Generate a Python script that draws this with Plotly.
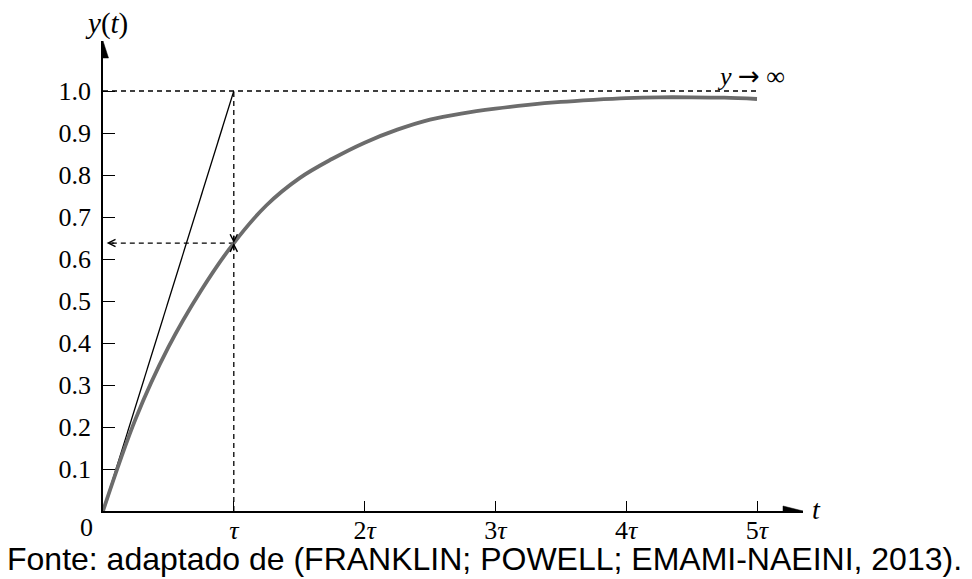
import plotly.graph_objects as go

# First-order step response y(t), time in units of the time constant tau
T_VALUES = [0, 0.25, 0.5, 0.75, 1.0, 1.25, 1.5, 1.75, 2.0, 2.25, 2.5, 2.75,
            3.0, 3.25, 3.5, 3.75, 4.0, 4.25, 4.5, 4.75, 5.0]
Y_VALUES = [0, 0.22, 0.39, 0.525, 0.638, 0.728, 0.792, 0.838, 0.877, 0.908, 0.932, 0.947,
            0.958, 0.967, 0.974, 0.979, 0.983, 0.985, 0.985, 0.984, 0.981]

TAU = 1.0
FINAL_VALUE = 1.0
Y_AT_TAU = 0.638
REF_LINE_END = 5.02
ARROW_TIP_X = 0.028

Y_TICKS = [0.1, 0.2, 0.3, 0.4, 0.5, 0.6, 0.7, 0.8, 0.9, 1.0]
Y_TICK_TEXT = ["0.1", "0.2", "0.3", "0.4", "0.5", "0.6", "0.7", "0.8", "0.9", "1.0"]
X_TICKS = [1, 2, 3, 4, 5]
X_TICK_TEXT = ["<i>τ</i>", "2<i>τ</i>", "3<i>τ</i>", "4<i>τ</i>", "5<i>τ</i>"]

W, H = 972, 579
PX_L, PX_R, PX_T, PX_B = 103, 803, 41, 511
PX_PER_TAU = 130.8
PX_PER_UNIT = 420.0
XMAX = (PX_R - PX_L) / PX_PER_TAU
YMAX = (PX_B - PX_T) / PX_PER_UNIT

SERIF = "Liberation Serif"
DASH = "5px,4px"

fig = go.Figure()

# Reference lines: final value and t = tau
fig.add_trace(go.Scatter(x=[0, REF_LINE_END], y=[FINAL_VALUE, FINAL_VALUE], mode="lines",
                         line=dict(color="black", width=1.3, dash=DASH), hoverinfo="skip"))
fig.add_trace(go.Scatter(x=[TAU, TAU], y=[0, FINAL_VALUE], mode="lines",
                         line=dict(color="black", width=1.3, dash=DASH), hoverinfo="skip"))
fig.add_trace(go.Scatter(x=[TAU, ARROW_TIP_X + 0.03], y=[Y_AT_TAU, Y_AT_TAU], mode="lines",
                         line=dict(color="black", width=1.3, dash=DASH), hoverinfo="skip"))

# Initial-slope tangent
fig.add_trace(go.Scatter(x=[0, TAU], y=[0, FINAL_VALUE], mode="lines",
                         line=dict(color="black", width=1.3), hoverinfo="skip"))

# Step response
fig.add_trace(go.Scatter(x=T_VALUES, y=Y_VALUES, mode="lines",
                         line=dict(color="#6c6c6c", width=3.8, shape="spline", smoothing=1.0),
                         hoverinfo="skip"))

annotations = []
arrow_style = dict(showarrow=True, arrowhead=5, arrowsize=1.1, arrowwidth=1.3,
                   arrowcolor="black", text="", xref="x", yref="y", axref="pixel", ayref="pixel")
# Double arrow on the tau line at y(tau)
annotations.append(dict(x=TAU, y=Y_AT_TAU, ax=0, ay=-9, **arrow_style))
annotations.append(dict(x=TAU, y=Y_AT_TAU, ax=0, ay=9, **arrow_style))
# Arrow towards the y axis
annotations.append(dict(x=ARROW_TIP_X, y=Y_AT_TAU, ax=9, ay=0, **arrow_style))

annotations += [
    dict(x=0, y=YMAX, xref="x", yref="y", text="<i>y</i>(<i>t</i>)", showarrow=False,
         xanchor="center", yanchor="middle", xshift=3, yshift=18,
         font=dict(family=SERIF, size=29, color="black")),
    dict(x=XMAX, y=0, xref="x", yref="y", text="<i>t</i>", showarrow=False,
         xanchor="center", yanchor="middle", xshift=13, yshift=2,
         font=dict(family=SERIF, size=28, color="black")),
    dict(x=REF_LINE_END, y=FINAL_VALUE, xref="x", yref="y",
         text="<i>y</i> <span style='font-family:DejaVu Sans'>→</span> ∞",
         showarrow=False, xanchor="center", yanchor="middle", xshift=-9, yshift=15,
         font=dict(family=SERIF, size=26, color="black")),
    dict(x=0, y=0, xref="x", yref="y", text="0", showarrow=False,
         xanchor="center", yanchor="middle", xshift=-17, yshift=-16,
         font=dict(family=SERIF, size=26, color="black")),
    dict(x=(484 - PX_L) / (PX_R - PX_L), y=(PX_B - 559) / (PX_B - PX_T), xref="paper",
         yref="paper", text="Fonte: adaptado de (FRANKLIN; POWELL; EMAMI-NAEINI, 2013).",
         showarrow=False, xanchor="center", yanchor="middle",
         font=dict(family="Liberation Sans, Arial", size=32, color="black")),
]

# Axis arrowheads (pixel-sized paths anchored at the axis ends)
shapes = [
    dict(type="path", xref="x", yref="y", xsizemode="pixel", ysizemode="pixel",
         xanchor=0, yanchor=YMAX, path="M0,0 L-5.5,-17 L5.5,-17 Z",
         fillcolor="black", line=dict(color="black", width=0.5)),
    dict(type="path", xref="x", yref="y", xsizemode="pixel", ysizemode="pixel",
         xanchor=XMAX, yanchor=0, path="M0,0 L-20,5 L-20,-5 Z",
         fillcolor="black", line=dict(color="black", width=0.5)),
]

fig.update_layout(
    width=W, height=H,
    margin=dict(l=PX_L, r=W - PX_R, t=PX_T, b=H - PX_B, pad=0),
    paper_bgcolor="white", plot_bgcolor="white",
    showlegend=False,
    annotations=annotations,
    shapes=shapes,
    xaxis=dict(range=[0, XMAX], showgrid=False, zeroline=False, showline=True,
               linecolor="black", linewidth=1.5, ticks="inside", ticklen=10,
               tickwidth=1.3, tickcolor="black", tickvals=X_TICKS, ticktext=X_TICK_TEXT,
               tickfont=dict(family=SERIF, size=26, color="black"), fixedrange=True,
               ticklabelstandoff=-5),
    yaxis=dict(range=[0, YMAX], showgrid=False, zeroline=False, showline=True,
               linecolor="black", linewidth=1.5, ticks="inside", ticklen=12,
               tickwidth=1.3, tickcolor="black", tickvals=Y_TICKS, ticktext=Y_TICK_TEXT,
               tickfont=dict(family=SERIF, size=26, color="black"), fixedrange=True,
               ticklabelstandoff=5),
)

fig.write_html("out.html")
